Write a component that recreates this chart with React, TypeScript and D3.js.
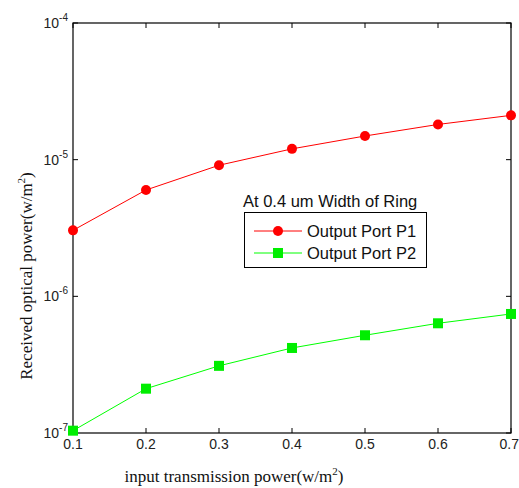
import * as d3 from "d3";
import { useEffect, useRef } from "react";

// input transmission power (w/m^2)
const inputPower = [0.1, 0.2, 0.3, 0.4, 0.5, 0.6, 0.7];
// received optical power, output port P1
const portP1 = [3.04e-6, 6.0e-6, 9.1e-6, 1.2e-5, 1.49e-5, 1.81e-5, 2.11e-5];
// received optical power, output port P2
const portP2 = [1.04e-7, 2.11e-7, 3.1e-7, 4.19e-7, 5.19e-7, 6.35e-7, 7.43e-7];
const xTicks = [0.1, 0.2, 0.3, 0.4, 0.5, 0.6, 0.7];
const yTicks = [-7, -6, -5, -4];
const legendTitle = "At 0.4 um Width of Ring";
const seriesNames = ["Output Port P1", "Output Port P2"];

const SANS = "'Liberation Sans', Arial, sans-serif";
const SERIF = "'Liberation Serif', 'Times New Roman', serif";

const App = () => {
  const ref = useRef<SVGSVGElement>(null);

  useEffect(() => {
    const svg = d3.select(ref.current);
    svg.selectAll("*").remove();

    // plot box
    const left = 73, right = 511, top = 23, bottom = 433;

    const x = d3.scaleLinear().domain([0.1, 0.7]).range([left, right]);
    const y = d3.scaleLog().domain([1e-7, 1e-4]).range([bottom, top]);

    svg.append("rect").attr("width", 519).attr("height", 488).attr("fill", "#fff");

    // ticks inside the box, on all four sides
    const g = svg.append("g");
    xTicks.forEach((t) => {
      g.append("line").attr("x1", x(t)).attr("x2", x(t)).attr("y1", bottom).attr("y2", bottom - 5)
        .attr("stroke", "#000");
      g.append("line").attr("x1", x(t)).attr("x2", x(t)).attr("y1", top).attr("y2", top + 5)
        .attr("stroke", "#000");
      g.append("text").attr("x", x(t)).attr("y", bottom + 16)
        .attr("text-anchor", t === 0.7 ? "end" : "middle")
        .attr("dx", t === 0.7 ? 8 : 0)
        .style("font", `14px ${SANS}`).attr("fill", "#222")
        .text(d3.format(".1f")(t));
    });
    yTicks.forEach((e) => {
      const yy = y(Math.pow(10, e));
      g.append("line").attr("x1", left).attr("x2", left + 5).attr("y1", yy).attr("y2", yy)
        .attr("stroke", "#000");
      g.append("line").attr("x1", right).attr("x2", right - 5).attr("y1", yy).attr("y2", yy)
        .attr("stroke", "#000");
      const txt = g.append("text").attr("x", left - 5).attr("y", yy + 5)
        .attr("text-anchor", "end").style("font", `14px ${SANS}`).attr("fill", "#222");
      txt.append("tspan").text("10");
      txt.append("tspan").attr("dy", -7).style("font-size", "10px").text(String(e));
    });

    g.append("rect").attr("x", left).attr("y", top).attr("width", right - left).attr("height", bottom - top)
      .attr("fill", "none").attr("stroke", "#000").attr("stroke-width", 1.2);

    // axis labels
    const xl = svg.append("text").attr("x", 234).attr("y", 482).attr("text-anchor", "middle")
      .style("font", `17px ${SERIF}`).attr("fill", "#111");
    xl.append("tspan").text("input transmission power(w/m");
    xl.append("tspan").attr("dy", -7).style("font-size", "11px").text("2");
    xl.append("tspan").attr("dy", 7).text(")");

    const yl = svg.append("text").attr("transform", "translate(32,276) rotate(-90)")
      .attr("text-anchor", "middle").style("font", `17px ${SERIF}`).attr("fill", "#111");
    yl.append("tspan").text("Received optical power(w/m");
    yl.append("tspan").attr("dy", -7).style("font-size", "11px").text("2");
    yl.append("tspan").attr("dy", 7).text(")");

    const line = d3.line<number>().x((_, i) => x(inputPower[i])).y((d) => y(d));

    // P1: red circles
    svg.append("path").datum(portP1).attr("d", line).attr("fill", "none").attr("stroke", "#ff0000");
    svg.selectAll(".p1").data(portP1).enter().append("circle")
      .attr("cx", (_, i) => x(inputPower[i])).attr("cy", (d) => y(d)).attr("r", 5).attr("fill", "#ff0000");

    // P2: green squares
    svg.append("path").datum(portP2).attr("d", line).attr("fill", "none").attr("stroke", "#00ff00");
    svg.selectAll(".p2").data(portP2).enter().append("rect")
      .attr("x", (_, i) => x(inputPower[i]) - 5).attr("y", (d) => y(d) - 5)
      .attr("width", 10).attr("height", 10).attr("fill", "#00ee00");

    // legend
    svg.append("text").attr("x", 243).attr("y", 207).style("font", `16.5px ${SANS}`).attr("fill", "#111")
      .text(legendTitle);
    svg.append("rect").attr("x", 244.5).attr("y", 212.5).attr("width", 182).attr("height", 55)
      .attr("fill", "#fff").attr("stroke", "#000");
    const colors = ["#ff0000", "#00ff00"];
    seriesNames.forEach((name, i) => {
      const ly = 231 + i * 22;
      svg.append("line").attr("x1", 254).attr("x2", 302).attr("y1", ly).attr("y2", ly).attr("stroke", colors[i]);
      if (i === 0) {
        svg.append("circle").attr("cx", 278).attr("cy", ly).attr("r", 5).attr("fill", colors[i]);
      } else {
        svg.append("rect").attr("x", 273).attr("y", ly - 5).attr("width", 10).attr("height", 10).attr("fill", "#00ee00");
      }
      svg.append("text").attr("x", 307).attr("y", ly + 6).style("font", `16.5px ${SANS}`).attr("fill", "#111")
        .text(name);
    });
  }, []);

  return (
    <svg ref={ref} width={519} height={488}
      style={{ position: "absolute", left: 0, top: 0, display: "block" }} />
  );
};

export default App;
